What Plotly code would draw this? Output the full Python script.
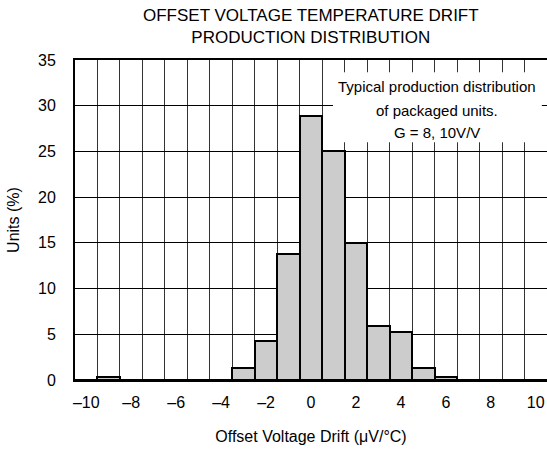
import plotly.graph_objects as go

# Data
bin_centers = list(range(-10, 11))
units_pct = [0, 0.3, 0, 0, 0, 0, 0, 1.3, 4.3, 13.8, 28.9, 25.1, 15.0, 5.9, 5.3, 1.3, 0.3, 0, 0, 0, 0]
x_tick_vals = [-10, -8, -6, -4, -2, 0, 2, 4, 6, 8, 10]
x_tick_text = ["–10", "–8", "–6", "–4", "–2", "0", "2", "4", "6", "8", "10"]
y_tick_vals = [0, 5, 10, 15, 20, 25, 30, 35]

title_text = "OFFSET VOLTAGE TEMPERATURE DRIFT<br>PRODUCTION DISTRIBUTION"
x_title = "Offset Voltage Drift (μV/°C)"
y_title = "Units (%)"
note_lines = ["Typical production distribution", "of packaged units.", "G = 8, 10V/V"]

FONT = "Liberation Sans, Arial, Helvetica, sans-serif"

fig = go.Figure()
fig.add_trace(go.Bar(
    x=bin_centers, y=units_pct, width=1,
    marker=dict(color="#cccccc", line=dict(color="black", width=2)),
    showlegend=False, hoverinfo="skip",
))

fig.update_layout(
    width=547, height=451,
    margin=dict(l=75, r=0, t=60, b=71, autoexpand=False),
    paper_bgcolor="white", plot_bgcolor="white",
    font=dict(family=FONT, size=16, color="black"),
    bargap=0,
)

fig.update_xaxes(
    range=[-10.5, 10.5], tickmode="array", tickvals=x_tick_vals, ticktext=x_tick_text,
    showgrid=False, zeroline=False, automargin=False,
    showline=True, linecolor="black", linewidth=2, mirror=True,
    ticks="", ticklabelstandoff=7,
    tickfont=dict(size=16),
    minor=dict(tickmode="linear", tick0=0.5, dtick=1, showgrid=True, gridcolor="#333333", gridwidth=1),
    title=dict(text=x_title, font=dict(size=16), standoff=21),
)
fig.update_yaxes(
    range=[0, 35], tickmode="array", tickvals=y_tick_vals,
    showgrid=True, gridcolor="black", gridwidth=1, zeroline=False, automargin=False,
    showline=True, linecolor="black", linewidth=2, mirror=True,
    ticks="", ticklabelstandoff=14,
    tickfont=dict(size=16),
    title=dict(text=y_title, font=dict(size=16), standoff=14),
)

# Title as a two-line annotation
fig.add_annotation(text=title_text, xref="paper", yref="paper", x=0.5, y=1.0, yshift=11,
                   xanchor="center", yanchor="bottom", showarrow=False,
                   font=dict(size=17, color="black", family=FONT))

# White box behind the note
fig.add_shape(type="rect", xref="paper", yref="paper", x0=0.5466, x1=0.989, y0=0.743, y1=0.962,
              fillcolor="white", line=dict(width=0), layer="above")
note_y = [0.9186, 0.8435, 0.7746]
for txt, yy in zip(note_lines, note_y):
    fig.add_annotation(text=txt, xref="paper", yref="paper", x=0.768, y=yy,
                       xanchor="center", yanchor="middle", showarrow=False,
                       font=dict(size=15, color="black", family=FONT))

fig.write_html("out.html", config={"displayModeBar": False},
               post_script="document.body.style.margin='0px';document.body.style.padding='0px';")
